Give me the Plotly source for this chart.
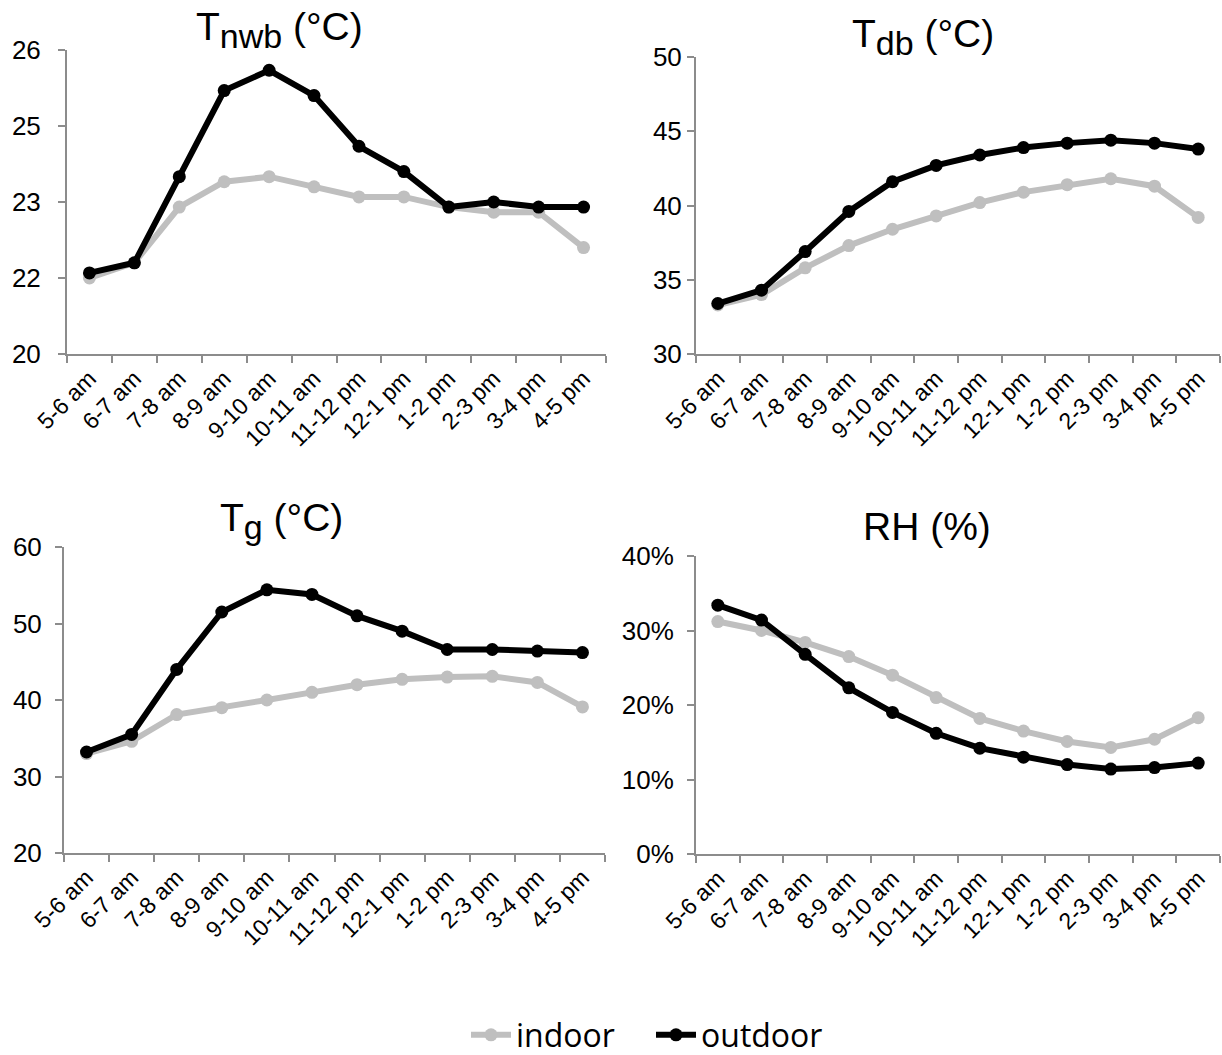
import plotly.graph_objects as go

categories = ["5-6 am", "6-7 am", "7-8 am", "8-9 am", "9-10 am", "10-11 am",
              "11-12 pm", "12-1 pm", "1-2 pm", "2-3 pm", "3-4 pm", "4-5 pm"]

tnwb_indoor = [21.5, 21.8, 22.9, 23.4, 23.5, 23.3, 23.1, 23.1, 22.9, 22.8, 22.8, 22.1]
tnwb_outdoor = [21.6, 21.8, 23.5, 25.2, 25.6, 25.1, 24.1, 23.6, 22.9, 23.0, 22.9, 22.9]

tdb_indoor = [33.3, 34.0, 35.8, 37.3, 38.4, 39.3, 40.2, 40.9, 41.4, 41.8, 41.3, 39.2]
tdb_outdoor = [33.4, 34.3, 36.9, 39.6, 41.6, 42.7, 43.4, 43.9, 44.2, 44.4, 44.2, 43.8]

tg_indoor = [33.0, 34.6, 38.1, 39.0, 40.0, 41.0, 42.0, 42.7, 43.0, 43.1, 42.3, 39.1]
tg_outdoor = [33.2, 35.5, 44.0, 51.5, 54.4, 53.8, 51.0, 49.0, 46.6, 46.6, 46.4, 46.2]

rh_indoor = [0.312, 0.300, 0.284, 0.265, 0.240, 0.210, 0.182, 0.165, 0.151, 0.143, 0.154, 0.183]
rh_outdoor = [0.334, 0.314, 0.268, 0.223, 0.190, 0.162, 0.142, 0.130, 0.120, 0.114, 0.116, 0.122]

tnwb_ticks = [20, 21.5, 23, 24.5, 26]
tnwb_ticktext = ["20", "22", "23", "25", "26"]
tdb_ticks = [30, 35, 40, 45, 50]
tg_ticks = [20, 30, 40, 50, 60]
rh_ticks = [0, 0.1, 0.2, 0.3, 0.4]

SUB = "<sub><span style='font-size:34px'>{}</span></sub>"
titles = ["T" + SUB.format("nwb") + " (°C)", "T" + SUB.format("db") + " (°C)",
          "T" + SUB.format("g") + " (°C)", "RH (%)"]

W, H = 1222, 1055
GRAY_AX = "#8c8c8c"
C_IN = "#bfbfbf"
C_OUT = "#000000"
FONT = "Liberation Sans, Arial, sans-serif"

def px_x(a, b):
    return [a / W, b / W]

def px_y(top, bottom):
    return [1 - bottom / H, 1 - top / H]

panels = [
    dict(x=px_x(67, 606), y=px_y(50, 354), ind=tnwb_indoor, out=tnwb_outdoor,
         rng=[20, 26], tv=tnwb_ticks, tt=tnwb_ticktext, fmt=None, so=12),
    dict(x=px_x(696, 1220), y=px_y(57, 354), ind=tdb_indoor, out=tdb_outdoor,
         rng=[30, 50], tv=tdb_ticks, tt=None, fmt=None, so=0),
    dict(x=px_x(64, 605), y=px_y(547, 853), ind=tg_indoor, out=tg_outdoor,
         rng=[20, 60], tv=tg_ticks, tt=None, fmt=None, so=8),
    dict(x=px_x(696, 1220), y=px_y(556, 854), ind=rh_indoor, out=rh_outdoor,
         rng=[0, 0.4], tv=rh_ticks, tt=None, fmt=".0%", so=8),
]

title_pos = [(279, 30), (923, 37), (281, 521), (927, 526)]

fig = go.Figure()
layout = dict(
    width=W, height=H,
    margin=dict(l=0, r=0, t=0, b=0, autoexpand=False),
    paper_bgcolor="white", plot_bgcolor="white",
    font=dict(family=FONT, color="black"),
    showlegend=True,
    legend=dict(orientation="h", x=466 / W, xanchor="left", y=1 - 1035 / H, yanchor="middle",
                font=dict(family="Open Sans, sans-serif", size=32, color="black"),
                itemwidth=40, tracegroupgap=0, entrywidth=130, entrywidthmode="pixels"),
    annotations=[],
)

for i, p in enumerate(panels):
    n = i + 1
    xa = "x" if n == 1 else f"x{n}"
    ya = "y" if n == 1 else f"y{n}"
    xkey = "xaxis" if n == 1 else f"xaxis{n}"
    ykey = "yaxis" if n == 1 else f"yaxis{n}"
    fig.add_trace(go.Scatter(
        x=categories, y=p["ind"], xaxis=xa, yaxis=ya, name="indoor",
        mode="lines+markers", line=dict(color=C_IN, width=6),
        marker=dict(size=13, color=C_IN), cliponaxis=False,
        showlegend=(n == 1), legendgroup="indoor"))
    fig.add_trace(go.Scatter(
        x=categories, y=p["out"], xaxis=xa, yaxis=ya, name="outdoor",
        mode="lines+markers", line=dict(color=C_OUT, width=6),
        marker=dict(size=13, color=C_OUT), cliponaxis=False,
        showlegend=(n == 1), legendgroup="outdoor"))
    layout[xkey] = dict(
        domain=p["x"], anchor=ya, type="category", range=[-0.5, 11.5],
        automargin=False,
        showline=True, linecolor=GRAY_AX, linewidth=2,
        ticks="outside", tickson="boundaries", ticklen=7, tickwidth=2, tickcolor=GRAY_AX,
        tickangle=-45, tickfont=dict(family=FONT, size=23, color="black"),
        showgrid=False, zeroline=False, fixedrange=True)
    yd = dict(
        domain=p["y"], anchor=xa, range=p["rng"], tickvals=p["tv"],
        automargin=False,
        showline=True, linecolor=GRAY_AX, linewidth=2,
        ticks="outside", ticklen=7, tickwidth=2, tickcolor=GRAY_AX,
        ticklabelstandoff=p["so"],
        tickfont=dict(family=FONT, size=26, color="black"),
        showgrid=False, zeroline=False, fixedrange=True)
    if p["tt"] is not None:
        yd["ticktext"] = p["tt"]
    if p["fmt"] is not None:
        yd["tickformat"] = p["fmt"]
    layout[ykey] = yd
    tx, ty = title_pos[i]
    layout["annotations"].append(dict(
        text=titles[i], x=tx / W, y=1 - ty / H, xref="paper", yref="paper",
        xanchor="center", yanchor="middle", showarrow=False,
        font=dict(family=FONT, size=39, color="black")))

fig.update_layout(**layout)
fig.write_html("out.html", config={"displayModeBar": False},
               post_script="document.body.style.margin='0';document.body.style.overflow='hidden';")
